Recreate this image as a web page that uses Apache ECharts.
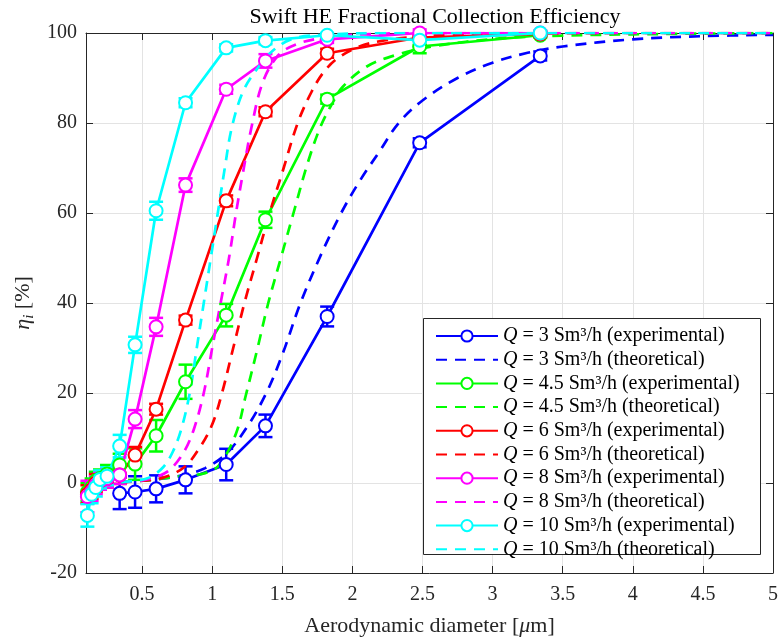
<!DOCTYPE html>
<html lang="en">
<head>
    <meta charset="UTF-8"/>
    <script type="text/javascript" src="https://cdn.jsdelivr.net/npm/echarts@6/dist/echarts.min.js"></script>
    <title>Swift HE Fractional Collection Efficiency</title>
    <style>
        body { margin: 0; background: #fff; }
    </style>
</head>
<body>
<div id="main" style="width:781px;height:642px"></div>
<script type="text/javascript">
    // experimental diameters [um], shared by all flow rates
    var expX = [0.11, 0.14, 0.17, 0.2, 0.25, 0.34, 0.45, 0.6, 0.81, 1.1, 1.38, 1.82, 2.48, 3.34];

    // experimental efficiencies [%] and error bar half widths
    var exp3   = [null, null, null, null, null, -2.3, -2.0, -1.3, 0.7, 4.1, 12.7, 37.0, 75.6, 94.9];
    var err3   = [0, 0, 0, 0, 0, 3.5, 3.5, 3.0, 3.0, 3.5, 2.5, 2.2, 1.0, 1.0];
    var exp45  = [-2.0, -1.0, 0.5, 1.0, 2.0, 4.0, 4.2, 10.5, 22.5, 37.3, 58.5, 85.3, 97.0, 99.5];
    var err45  = [2.0, 2.0, 2.0, 2.0, 2.0, 2.5, 3.5, 3.5, 3.8, 2.5, 1.8, 1.0, 1.5, 0.5];
    var exp6   = [-2.5, -1.5, 0.0, 0.5, 1.0, 1.8, 6.2, 16.4, 36.2, 62.7, 82.5, 95.5, 99.0, 99.8];
    var err6   = [2.0, 2.0, 2.0, 2.0, 2.0, 2.0, 1.8, 1.2, 1.0, 1.2, 1.0, 1.0, 0.8, 0.5];
    var exp8   = [-3.0, -2.0, -0.5, 0.5, 1.0, 1.8, 14.2, 34.7, 66.2, 87.5, 93.8, 98.6, 100, 100];
    var err8   = [3.5, 2.0, 2.0, 2.0, 2.0, 2.0, 2.0, 2.0, 1.5, 1.0, 1.5, 0.8, 0.8, 0.5];
    var exp10  = [-7.2, -2.5, -1.0, 0.8, 1.5, 8.2, 30.7, 60.5, 84.5, 96.7, 98.3, 99.5, 98.4, 100];
    var err10  = [2.5, 2.0, 2.0, 2.0, 2.0, 2.5, 1.8, 2.0, 1.0, 0.8, 0.8, 0.5, 1.5, 0.5];

    // theoretical curves
    var thX3  = [0.35, 0.5, 0.65, 0.8, 0.95, 1.1, 1.25, 1.386, 1.5, 1.63, 1.78, 1.92, 2.05, 2.2, 2.33, 2.5, 2.75, 3.0, 3.25, 3.5, 4.0, 4.5, 5.0];
    var thY3  = [0.2, 0.5, 1.0, 1.8, 3.3, 6.5, 12.5, 20, 28.5, 40, 51, 60, 67, 74, 80, 85, 90, 93.4, 95.6, 97.0, 98.6, 99.3, 99.6];
    var thX45 = [0.35, 0.5, 0.65, 0.8, 0.95, 1.05, 1.17, 1.24, 1.32, 1.4, 1.49, 1.58, 1.68, 1.77, 1.85, 1.93, 2.1, 2.3, 2.57, 3.05, 3.5, 4.0, 5.0];
    var thY45 = [0.2, 0.5, 1.0, 1.6, 2.2, 4.0, 11, 19.5, 29.5, 40, 50, 60, 71, 79, 84, 88, 92.5, 95, 97, 98.8, 99.4, 99.7, 100];
    var thX6  = [0.35, 0.5, 0.65, 0.8, 0.91, 1.0, 1.07, 1.15, 1.23, 1.32, 1.41, 1.5, 1.61, 1.71, 1.8, 1.9, 2.05, 2.2, 2.4, 2.7, 3.0, 4.0, 5.0];
    var thY6  = [0.2, 0.5, 1.2, 3.5, 7.8, 13, 20, 30, 40, 50, 60, 69, 80, 87, 91.5, 94.5, 97, 98.2, 99, 99.6, 99.8, 100, 100];
    var thX8  = [0.35, 0.5, 0.6, 0.7, 0.8, 0.87, 0.94, 1.0, 1.06, 1.12, 1.17, 1.22, 1.28, 1.36, 1.47, 1.6, 1.8, 2.0, 2.5, 3.0, 5.0];
    var thY8  = [0.2, 0.6, 1.3, 3.0, 7.0, 12, 20, 30, 40, 50, 60, 69, 79, 89, 95, 97.5, 99, 99.6, 100, 100, 100];
    var thX10 = [0.35, 0.45, 0.55, 0.65, 0.72, 0.78, 0.84, 0.89, 0.94, 0.99, 1.04, 1.09, 1.14, 1.22, 1.32, 1.43, 1.58, 1.8, 2.2, 3.0, 5.0];
    var thY10 = [0.2, 0.5, 1.2, 3.5, 7, 12, 20, 30, 40, 50, 60, 70, 79, 87, 92, 96, 98.8, 99.6, 100, 100, 100];

    var flows = [
        {q: '3',   color: '#0000ff', exp: exp3,  err: err3,  thX: thX3,  thY: thY3},
        {q: '4.5', color: '#00ff00', exp: exp45, err: err45, thX: thX45, thY: thY45},
        {q: '6',   color: '#ff0000', exp: exp6,  err: err6,  thX: thX6,  thY: thY6},
        {q: '8',   color: '#ff00ff', exp: exp8,  err: err8,  thX: thX8,  thY: thY8},
        {q: '10',  color: '#00ffff', exp: exp10, err: err10, thX: thX10, thY: thY10}
    ];

    var font = 'Liberation Serif';

    function pairs(xs, ys) {
        var out = [];
        for (var i = 0; i < xs.length; i++) {
            if (ys[i] != null) out.push([xs[i], ys[i]]);
        }
        return out;
    }

    function errData(xs, ys, es) {
        var out = [];
        for (var i = 0; i < xs.length; i++) {
            if (ys[i] != null) out.push([xs[i], ys[i] - es[i], ys[i] + es[i]]);
        }
        return out;
    }

    function errorBars(params, api) {
        var x = api.value(0);
        var lo = api.coord([x, api.value(1)]);
        var hi = api.coord([x, api.value(2)]);
        var w = 7;
        var st = {stroke: api.visual('color'), lineWidth: 2.5};
        return {
            type: 'group',
            children: [
                {type: 'line', shape: {x1: lo[0], y1: lo[1], x2: hi[0], y2: hi[1]}, style: st},
                {type: 'line', shape: {x1: lo[0] - w, y1: lo[1], x2: lo[0] + w, y2: lo[1]}, style: st},
                {type: 'line', shape: {x1: hi[0] - w, y1: hi[1], x2: hi[0] + w, y2: hi[1]}, style: st}
            ]
        };
    }

    var series = [];
    var legendData = [];
    flows.forEach(function (f) {
        var nExp = 'Q = ' + f.q + ' Sm³/h (experimental)';
        var nTh = 'Q = ' + f.q + ' Sm³/h (theoretical)';
        legendData.push({name: nExp});
        legendData.push({name: nTh, itemStyle: {opacity: 0}});
        series.push({
            name: nExp,
            type: 'line',
            data: pairs(expX, f.exp),
            color: f.color,
            symbol: 'emptyCircle',
            symbolSize: 13,
            lineStyle: {width: 2.7},
            itemStyle: {borderWidth: 2.5},
            animation: false
        });
        series.push({
            name: nTh,
            type: 'line',
            data: pairs(f.thX, f.thY),
            color: f.color,
            symbol: 'none',
            smooth: 0.35,
            lineStyle: {width: 2.7, type: [11, 8]},
            animation: false
        });
        series.push({
            name: nExp + ' err',
            type: 'custom',
            color: f.color,
            renderItem: errorBars,
            data: errData(expX, f.exp, f.err),
            z: 3,
            animation: false
        });
    });

    var axisLineStyle = {color: '#262626', width: 1};

    var option = {
        backgroundColor: '#fff',
        textStyle: {fontFamily: font},
        title: {
            text: 'Swift HE Fractional Collection Efficiency',
            left: 430,
            top: 1,
            textAlign: 'center',
            textStyle: {fontFamily: font, fontSize: 22, fontWeight: 'normal', color: '#000'}
        },
        grid: {left: 86, top: 33, right: 6, bottom: 66},
        xAxis: [{
            type: 'value',
            min: 0.1,
            max: 5,
            splitNumber: 10,
            name: 'Aerodynamic diameter [{u|μ}m]',
            nameLocation: 'middle',
            nameGap: 42,
            nameTextStyle: {
                fontFamily: font, fontSize: 22, color: '#262626',
                rich: {u: {fontFamily: font, fontSize: 22, fontStyle: 'italic', color: '#262626'}}
            },
            axisLine: {show: true, onZero: false, lineStyle: axisLineStyle},
            axisTick: {show: true, inside: true, length: 7, lineStyle: axisLineStyle},
            axisLabel: {fontFamily: font, fontSize: 20, color: '#262626', margin: 12, showMinLabel: false},
            splitLine: {show: true, lineStyle: {color: '#e3e3e3', width: 1}}
        }, {
            type: 'value',
            position: 'top',
            min: 0.1,
            max: 5,
            splitNumber: 10,
            axisLine: {show: true, onZero: false, lineStyle: axisLineStyle},
            axisTick: {show: true, inside: true, length: 7, lineStyle: axisLineStyle},
            axisLabel: {show: false},
            splitLine: {show: false}
        }],
        yAxis: [{
            type: 'value',
            min: -20,
            max: 100,
            interval: 20,
            name: '{e|η}{i|i} [%]',
            nameLocation: 'middle',
            nameGap: 46,
            nameTextStyle: {
                fontFamily: font, fontSize: 22, color: '#262626',
                rich: {
                    e: {fontFamily: font, fontSize: 22, fontStyle: 'italic', lineHeight: 26, color: '#262626'},
                    i: {fontFamily: font, fontSize: 15, fontStyle: 'italic', lineHeight: 15, verticalAlign: 'bottom', color: '#262626'}
                }
            },
            axisLine: {show: true, onZero: false, lineStyle: axisLineStyle},
            axisTick: {show: true, inside: true, length: 7, lineStyle: axisLineStyle},
            axisLabel: {fontFamily: font, fontSize: 20, color: '#262626', margin: 9},
            splitLine: {show: true, lineStyle: {color: '#e3e3e3', width: 1}}
        }, {
            type: 'value',
            position: 'right',
            min: -20,
            max: 100,
            interval: 20,
            axisLine: {show: true, onZero: false, lineStyle: axisLineStyle},
            axisTick: {show: true, inside: true, length: 7, lineStyle: axisLineStyle},
            axisLabel: {show: false},
            splitLine: {show: false}
        }],
        legend: {
            data: legendData,
            orient: 'vertical',
            left: 430,
            top: 321,
            itemWidth: 62,
            itemHeight: 14,
            itemGap: 3.7,
            selectedMode: false,
            formatter: function (name) {
                return '{q|Q}' + name.slice(1);
            },
            textStyle: {
                fontFamily: font, fontSize: 20, color: '#000', lineHeight: 20,
                rich: {q: {fontFamily: font, fontSize: 20, fontStyle: 'italic', color: '#000', lineHeight: 20}}
            }
        },
        graphic: [{
            type: 'rect',
            z: 3,
            shape: {x: 423.5, y: 318.5, width: 337, height: 236},
            style: {fill: '#fff', stroke: '#262626', lineWidth: 1}
        }],
        series: series
    };

    var myChart = echarts.init(document.getElementById('main'));
    myChart.setOption(option);
</script>
</body>
</html>
